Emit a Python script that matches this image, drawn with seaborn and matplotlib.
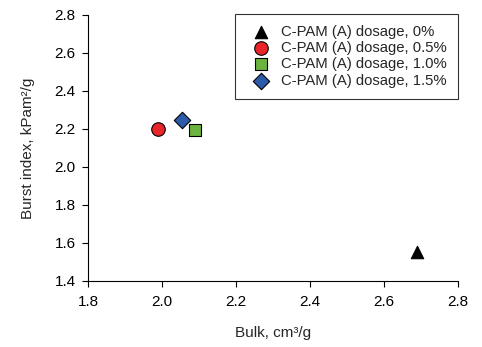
import matplotlib
matplotlib.use("Agg")
import matplotlib.pyplot as plt
import seaborn as sns
import pandas as pd

labels = ["C-PAM (A) dosage, 0%", "C-PAM (A) dosage, 0.5%",
          "C-PAM (A) dosage, 1.0%", "C-PAM (A) dosage, 1.5%"]
bulk = [2.69, 1.99, 2.09, 2.055]
burst = [1.555, 2.20, 2.195, 2.25]
colors = ["#000000", "#E8262A", "#6CB33F", "#2B5BA8"]
markers = ["^", "o", "s", "D"]
sizes = [80, 95, 80, 70]

sns.set_style("ticks")
plt.rcParams['font.family'] = ['Liberation Sans', 'DejaVu Sans']

df = pd.DataFrame({"bulk": bulk, "burst": burst, "label": labels})

fig = plt.figure(figsize=(4.82, 3.47), dpi=100)
ax = fig.add_axes([88/482, 66/347, 370/482, 266/347])

for lab, c, m, s in zip(labels, colors, markers, sizes):
    sub = df[df["label"] == lab]
    sns.scatterplot(data=sub, x="bulk", y="burst", ax=ax, color=c, marker=m,
                    s=s, edgecolor="black", linewidth=0.8, label=lab, zorder=3)

ax.set_xlim(1.8, 2.8)
ax.set_ylim(1.4, 2.8)
ax.set_xticks([1.8, 2.0, 2.2, 2.4, 2.6, 2.8])
ax.set_yticks([1.4, 1.6, 1.8, 2.0, 2.2, 2.4, 2.6, 2.8])
ax.xaxis.set_major_formatter(matplotlib.ticker.FormatStrFormatter('%.1f'))
ax.yaxis.set_major_formatter(matplotlib.ticker.FormatStrFormatter('%.1f'))
ax.tick_params(direction="out", length=4, width=0.8, labelsize=11, colors="black")
ax.tick_params(axis="x", pad=6)
ax.tick_params(axis="y", pad=5)
for sp in ["top", "right"]:
    ax.spines[sp].set_visible(False)
for sp in ["left", "bottom"]:
    ax.spines[sp].set_color("black")
    ax.spines[sp].set_linewidth(0.8)

ax.set_xlabel("Bulk, cm\u00b3/g", fontsize=11, labelpad=12)
ax.set_ylabel("Burst index, kPam\u00b2/g", fontsize=11, labelpad=14)

leg = ax.legend(loc="upper right", bbox_to_anchor=(1.0, 1.005), frameon=True,
                fancybox=False, edgecolor="black", fontsize=10.7,
                handletextpad=0.35, labelspacing=0.15, borderpad=0.75,
                borderaxespad=0.0, handlelength=2.0)
leg.get_frame().set_linewidth(0.8)

fig.savefig("out.png", dpi=100)
